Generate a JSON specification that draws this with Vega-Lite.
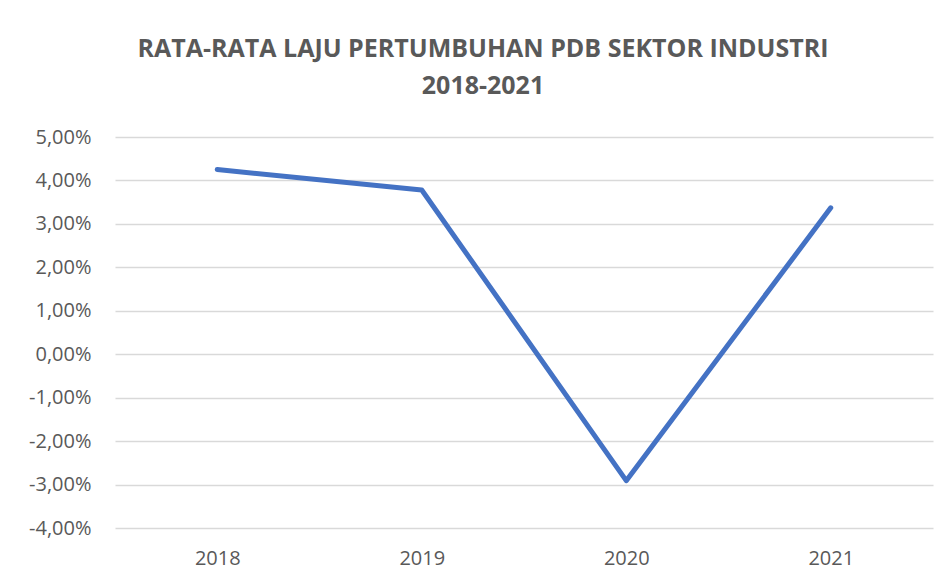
{
  "$schema": "https://vega.github.io/schema/vega-lite/v6.json",
  "width": 818,
  "height": 391,
  "autosize": {"type": "none"},
  "padding": {"left": 115, "top": 137, "right": 19, "bottom": 56},
  "background": "white",
  "config": {
    "locale": {"number": {"decimal": ",", "thousands": ".", "grouping": [3], "currency": ["Rp", ""], "minus": "-"}},
    "view": {"stroke": null},
    "font": "Open Sans"
  },
  "title": {
    "text": ["RATA-RATA LAJU PERTUMBUHAN PDB SEKTOR INDUSTRI", "2018-2021"],
    "anchor": "middle",
    "frame": "group",
    "dx": -41,
    "fontSize": 25,
    "fontWeight": "bold",
    "font": "Open Sans",
    "color": "#595959",
    "lineHeight": 37,
    "offset": 28
  },
  "data": {
    "values": [
      {"year": "2018", "growth": 0.0425},
      {"year": "2019", "growth": 0.0378},
      {"year": "2020", "growth": -0.0291},
      {"year": "2021", "growth": 0.0337}
    ]
  },
  "mark": {"type": "line", "color": "#4472C4", "strokeWidth": 5, "strokeCap": "round", "strokeJoin": "round"},
  "encoding": {
    "x": {
      "field": "year",
      "type": "ordinal",
      "scale": {"type": "point", "padding": 0.5},
      "axis": {"title": null, "labelAngle": 0, "domain": false, "ticks": false, "grid": false, "labelFontSize": 20, "labelColor": "#595959", "labelPadding": 20, "labelFont": "Open Sans"}
    },
    "y": {
      "field": "growth",
      "type": "quantitative",
      "scale": {"domain": [-0.04, 0.05], "nice": false, "zero": false},
      "axis": {"title": null, "values": [-0.04, -0.03, -0.02, -0.01, 0, 0.01, 0.02, 0.03, 0.04, 0.05], "format": ".2%", "domain": false, "ticks": false, "grid": true, "gridColor": "#d9d9d9", "gridWidth": 1.3, "labelFontSize": 20, "labelColor": "#595959", "labelPadding": 24, "labelFont": "Open Sans"}
    }
  }
}
